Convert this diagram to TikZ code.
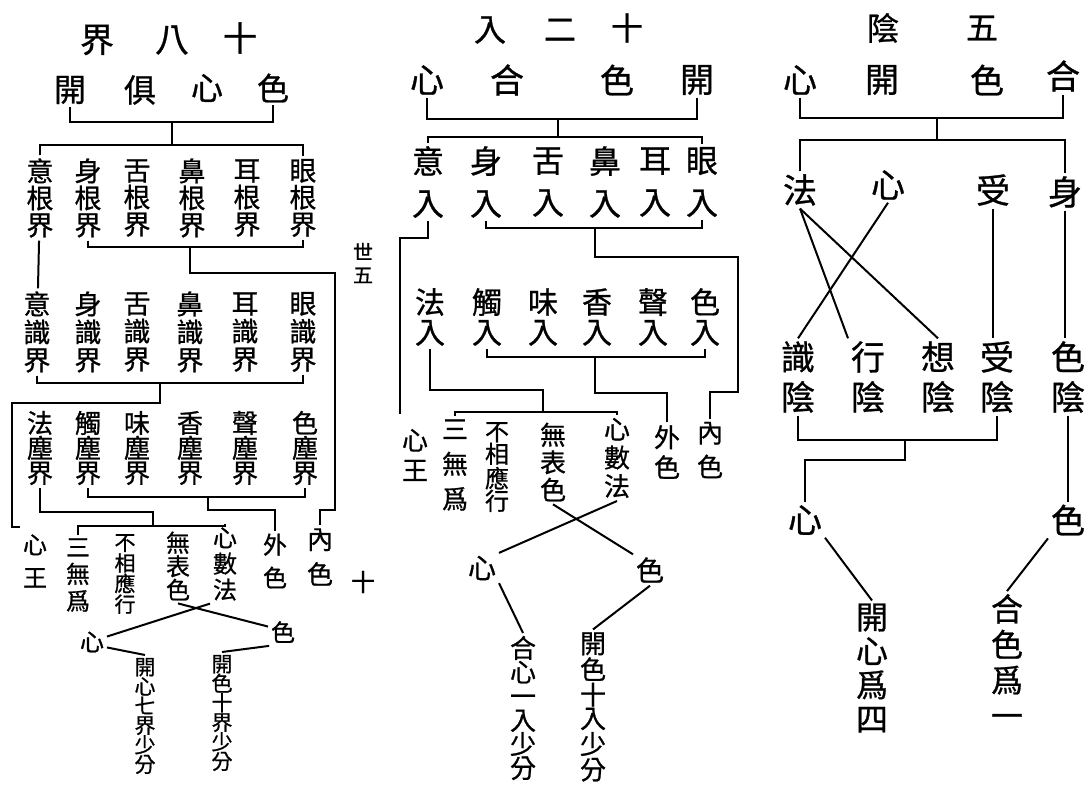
\documentclass[tikz,border=0pt]{standalone}
\usepackage{fontspec}
\setmainfont{Noto Sans CJK TC}[RawFeature={embolden=0.8}]
\begin{document}
\begin{tikzpicture}[line width=1pt,x=0.5pt,y=-0.5pt,
	every node/.style={inner sep=1pt},
	vt/.style 2 args={align=center,font=\fontsize{#1}{#2}\selectfont}]
\useasboundingbox (0,0) rectangle (1090,787);
% eighteen realms
\foreach \c/\x/\y [count=\i] in {界/97/40,八/172/40,十/240/38}
	\node[vt={17}{17}] (Lt\i) at (\x,\y) {\c};
\node[vt={16}{16}] (Lkai) at (70,90) {開};
\node[vt={16}{16}] (Lju) at (140,90) {俱};
\node[vt={16}{16}] (Lxin) at (207,88) {心};
\node[vt={16}{16}] (Lse) at (273,88) {色};
\foreach \c/\x [count=\i] in {意/40,身/88,舌/137,鼻/192,耳/247,眼/303}
	\node[vt={13.5}{13.5}] (Lg\i) at (\x,198) {\c\\根\\界};
\foreach \c/\x [count=\i] in {意/37,身/88,舌/137,鼻/190,耳/245,眼/303}
	\node[vt={13.5}{14}] (Ls\i) at (\x,332) {\c\\識\\界};
\foreach \c/\x [count=\i] in {法/40,觸/88,味/137,香/190,聲/245,色/305}
	\node[vt={13}{12.5}] (Lc\i) at (\x,448) {\c\\塵\\界};
\node[vt={12}{16.5}] (Lwang) at (35,561) {心\\王};
\node[vt={12}{13.5}] (Lwuwei) at (78,575) {三\\無\\爲};
\node[vt={10.5}{10.3}] (Lbxy) at (125,574) {不\\相\\應\\行};
\node[vt={12}{11.75}] (Lwbs) at (178,566) {無\\表\\色};
\node[vt={12}{13}] (Lxsf) at (225,564) {心\\數\\法};
\node[vt={12}{16.5}] (Lws) at (275,561) {外\\色};
\node[vt={13}{17.5}] (Lns) at (320,557) {內\\色};
\node[vt={12}{12}] (Ldx) at (92,642) {心};
\node[vt={12}{12}] (Ldse) at (283,632) {色};
\node[vt={10.5}{9.75}] (Lk1) at (145,716) {開\\心\\七\\界\\少\\分};
\node[vt={10.5}{9.75}] (Lk2) at (222,713) {開\\色\\十\\界\\少\\分};
\coordinate (Lj1) at (172,122);
\coordinate (Lj2) at (172,145);
\coordinate (Lj3) at (190,247);
\coordinate (Lj4) at (335,510);
\coordinate (Lj5) at (160,383);
\coordinate (Lj6) at (12,527);
\coordinate (Lj7) at (208,497);
\coordinate (Lj8) at (153,512);
\coordinate (Lj9) at (153,526);
\draw (Lkai.south) |- (Lj1) -| (Lse.south);
\draw (Lj1) -- (Lj2);
\draw (Lg1.north) |- (Lj2) -| (Lg6.north);
\draw (Lg1) -- (Ls1);
\draw (Lg2.south) |- (Lj3) -| (Lg6.south);
\draw (Lj3) -- ++(0,26) -| (Lj4) -| (Lns.north);
\draw (Ls1.south) |- (Lj5) -| (Ls6.south);
\draw (Lj5) -- ++(0,20) -| (Lj6) -- (Lj6 -| Lwang.north west);
\draw (Lc2.south) |- (Lj7) -| (Lc6.south);
\draw (Lj7) -- ++(0,13) -| (Lws.north);
\draw (Lc1.south) |- (Lj8) -- (Lj9);
\draw (Lwuwei.north) |- (Lj9) -| (Lxsf.north);
\draw (Lxsf.south west) -- (Ldx.20);
\draw (Lwbs.south) -- (Ldse.160);
\draw (Ldx.-20) -- (Lk1.north);
\draw (Ldse.-135) -- (Lk2.north);
% twelve entrances
\foreach \c/\x/\y [count=\i] in {入/490/30,二/560/30,十/627/28}
	\node[vt={16}{16}] (Mt\i) at (\x,\y) {\c};
\node[vt={17}{17}] (Mxin) at (427,80) {心};
\node[vt={17}{17}] (Mhe) at (507,80) {合};
\node[vt={17}{17}] (Mse) at (617,80) {色};
\node[vt={17}{17}] (Mkai) at (697,80) {開};
\foreach \c/\x [count=\i] in {意/428,身/486,舌/548,鼻/605,耳/655,眼/702}
	\node[vt={16}{21}] (Mr\i) at (\x,182) {\c\\入};
\foreach \c/\x [count=\i] in {法/430,觸/487,味/543,香/597,聲/653,色/705}
	\node[vt={15}{15}] (Mo\i) at (\x,317) {\c\\入};
\node[vt={13}{15}] (Mwang) at (415,455) {心\\王};
\node[vt={13}{17.5}] (Mwuwei) at (455,465) {三\\無\\爲};
\node[vt={12}{11.2}] (Mbxy) at (497,467) {不\\相\\應\\行};
\node[vt={13}{13.75}] (Mwbs) at (553,462) {無\\表\\色};
\node[vt={13}{14.25}] (Mxsf) at (617,458) {心\\數\\法};
\node[vt={13}{15}] (Mws) at (667,452) {外\\色};
\node[vt={13}{17}] (Mns) at (710,450) {內\\色};
\node[vt={14}{14}] (Mdx) at (482,568) {心};
\node[vt={14}{14}] (Mdse) at (650,570) {色};
\node[vt={13}{12}] (Mk1) at (523,708) {合\\心\\一\\入\\少\\分};
\node[vt={13}{11.7}] (Mk2) at (593,707) {開\\色\\十\\入\\少\\分};
\coordinate (Mj1) at (558,119);
\coordinate (Mj2) at (558,137);
\coordinate (Mj3) at (595,228);
\coordinate (Mj4) at (738,392);
\coordinate (Mj5) at (400,238);
\coordinate (Mj6) at (400,413);
\coordinate (Mj7) at (595,357);
\coordinate (Mj8) at (543,390);
\coordinate (Mj9) at (543,412);
\draw (Mxin.south) |- (Mj1) -| (Mkai.south);
\draw (Mj1) -- (Mj2);
\draw (Mr1.north) |- (Mj2) -| (Mr6.north);
\draw (Mr2.south) |- (Mj3) -| (Mr6.south);
\draw (Mj3) -- ++(0,29) -| (Mj4) -| (Mns.north);
\draw (Mr1.south) |- (Mj5) -- (Mj6) -- (Mj6 -| Mwang.north west);
\draw (Mo2.south) |- (Mj7) -| (Mo6.south);
\draw (Mj7) -- ++(0,36) -| (Mws.north);
\draw (Mo1.south) |- (Mj8) -- (Mj9);
\draw (Mwuwei.north) |- (Mj9) -| (Mxsf.north);
\draw (Mxsf.south) -- (Mdx.north east);
\draw (Mwbs.south) -- (Mdse.north west);
\draw (Mdx.south east) -- (Mk1.north);
\draw (Mdse.south) -- (Mk2.north);
% five aggregates
\node[vt={16}{16}] (Rt1) at (883,28) {陰};
\node[vt={16}{16}] (Rt2) at (982,28) {五};
\node[vt={17}{17}] (Rxin) at (800,80) {心};
\node[vt={17}{17}] (Rkai) at (882,80) {開};
\node[vt={17}{17}] (Rse) at (987,80) {色};
\node[vt={17}{17}] (Rhe) at (1063,76) {合};
\node[vt={17}{17}] (Rfa) at (800,190) {法};
\node[vt={17}{17}] (Rxx) at (888,185) {心};
\node[vt={17}{17}] (Rshou) at (993,190) {受};
\node[vt={17}{17}] (Rshen) at (1065,192) {身};
\foreach \c/\x [count=\i] in {識/798,行/868,想/938,受/997,色/1068}
	\node[vt={17}{20}] (Ry\i) at (\x,377) {\c\\陰};
\node[vt={17}{17}] (Rdx) at (805,520) {心};
\node[vt={17}{17}] (Rdse) at (1068,520) {色};
\node[vt={16}{17}] (Rk1) at (872,668) {開\\心\\爲\\四};
\node[vt={16}{17.8}] (Rk2) at (1007,661) {合\\色\\爲\\一};
\coordinate (Rj1) at (937,118);
\coordinate (Rj2) at (937,140);
\coordinate (Rj3) at (905,440);
\draw (Rxin.south) |- (Rj1) -| (Rhe.south);
\draw (Rj1) -- (Rj2);
\draw (Rfa.north) |- (Rj2) -| (Rshen.north);
\draw (Rfa.south) -- (Ry2.north west);
\draw (Rfa.south) -- (Ry3.north);
\draw (Rxx.south) -- (Ry1.north);
\draw (Rshou.south) -- (Rshou.south |- Ry4.north);
\draw (Rshen.south) -- (Rshen.south |- Ry5.north);
\draw (Ry1.south) |- (Rj3) -| (Ry4.south);
\draw (Rj3) -- ++(0,20) -| (Rdx.north);
\draw (Ry5.south) -- (Rdse.north);
\draw (Rdx.south east) -- (Rk1.north);
\draw (Rdse.south west) -- (Rk2.north);
% margin notes
\node[vt={10}{11.5}] (Nshi) at (363,263) {世\\五};
\node[vt={12}{12}] (Nten) at (363,582) {十};
\end{tikzpicture}
\end{document}
